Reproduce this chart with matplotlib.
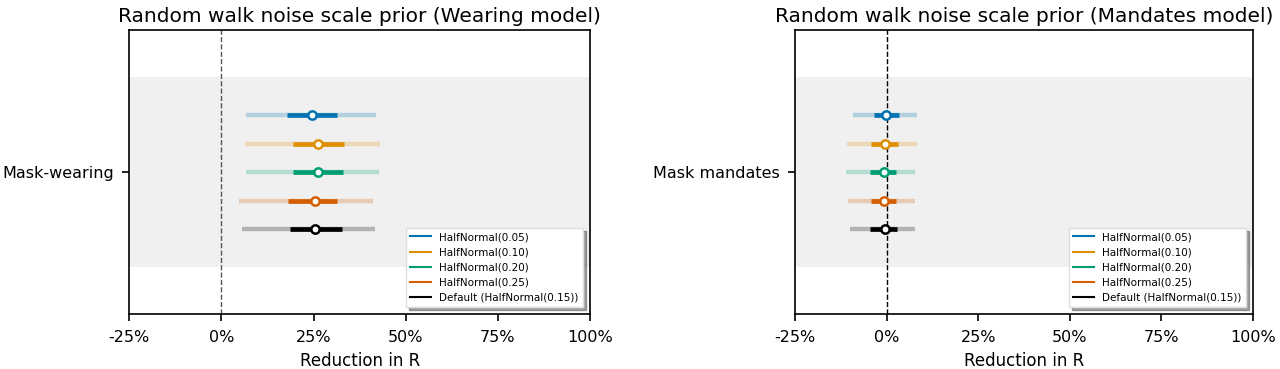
import matplotlib
matplotlib.use("Agg")
import matplotlib.pyplot as plt
from matplotlib.ticker import FuncFormatter

priors = ["HalfNormal(0.05)", "HalfNormal(0.10)", "HalfNormal(0.20)",
          "HalfNormal(0.25)", "Default (HalfNormal(0.15))"]
colors = ["#0173b2", "#de8f05", "#029e73", "#d55e00", "black"]

# % reduction in R
wearing_med = [24.5, 26.2, 26.3, 25.4, 25.5]
wearing_lo50 = [17.9, 19.4, 19.4, 18.0, 18.6]
wearing_hi50 = [31.4, 33.3, 33.0, 31.4, 32.7]
wearing_lo95 = [6.6, 6.3, 6.7, 4.8, 5.7]
wearing_hi95 = [41.8, 43.1, 42.7, 41.2, 41.6]

mandates_med = [-0.1, -0.4, -0.7, -0.7, -0.5]
mandates_lo50 = [-3.5, -4.3, -4.6, -4.2, -4.4]
mandates_hi50 = [3.3, 3.2, 2.6, 2.6, 2.9]
mandates_lo95 = [-9.1, -10.7, -11.1, -10.5, -10.0]
mandates_hi95 = [8.3, 8.3, 7.8, 7.9, 7.7]

offsets = [0.3, 0.15, 0.0, -0.15, -0.3]

fig = plt.figure(figsize=(12.8, 3.69), dpi=100)
ax1 = fig.add_axes([0.101, 0.148, 0.36, 0.771])
ax2 = fig.add_axes([0.621, 0.148, 0.358, 0.771])


def panel(ax, med, lo50, hi50, lo95, hi95, title, label, zcol):
    ax.axhspan(-0.5, 0.5, color="#f0f0f0", zorder=0, lw=0)
    ax.axvline(0, color=zcol, ls="--", lw=1, zorder=1)
    for i in range(len(priors)):
        y = offsets[i]
        c = colors[i]
        ax.plot([lo95[i], hi95[i]], [y, y], color=c, alpha=0.25, lw=3.2,
                solid_capstyle="butt", zorder=2)
        ax.plot([lo50[i], hi50[i]], [y, y], color=c, lw=3.4,
                solid_capstyle="butt", zorder=3)
        ax.plot([med[i]], [y], marker="o", ms=6, mfc="white", mec=c, mew=1.8,
                zorder=4)
        ax.plot([], [], color=c, lw=1.5, label=priors[i])
    ax.set_xlim(-25, 100)
    ax.set_ylim(-0.75, 0.75)
    ax.set_xticks([-25, 0, 25, 50, 75, 100])
    ax.xaxis.set_major_formatter(FuncFormatter(lambda v, p: f"{v:.0f}%"))
    ax.set_yticks([0])
    ax.set_yticklabels([label])
    ax.tick_params(labelsize=11.5, length=4.8, width=1.2, pad=6.2)
    ax.set_xlabel("Reduction in R", fontsize=12, labelpad=5)
    ax.set_title(title, fontsize=14.5)
    for s in ax.spines.values():
        s.set_linewidth(1.2)
    leg = ax.legend(loc="lower right", fontsize=7.5, shadow=True, fancybox=False,
                    borderaxespad=0.7, framealpha=1)
    leg.get_frame().set_edgecolor("#dddddd")


panel(ax1, wearing_med, wearing_lo50, wearing_hi50, wearing_lo95, wearing_hi95,
      "Random walk noise scale prior (Wearing model)", "Mask-wearing", "#555555")
panel(ax2, mandates_med, mandates_lo50, mandates_hi50, mandates_lo95, mandates_hi95,
      "Random walk noise scale prior (Mandates model)", "Mask mandates", "black")

fig.savefig("out.png", dpi=100)
